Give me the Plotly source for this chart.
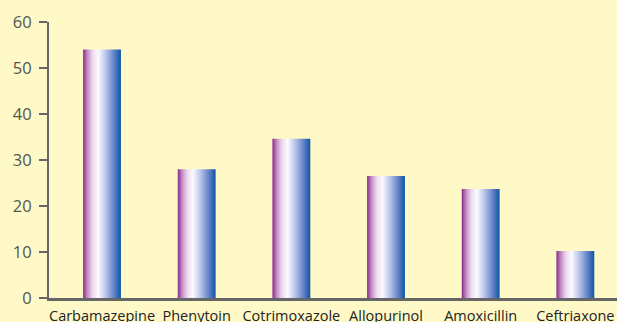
import plotly.graph_objects as go

# Drugs and the percentage attributed to each
drugs = ["Carbamazepine", "Phenytoin", "Cotrimoxazole", "Allopurinol", "Amoxicillin", "Ceftriaxone"]
values = [54, 28, 34.6, 26.5, 23.7, 10.2]
y_ticks = [0, 10, 20, 30, 40, 50, 60]

bar_half = 0.2
gradient = [
    [0.0, "#8a2a8c"],
    [0.12, "#c58fc6"],
    [0.25, "#ecd9ee"],
    [0.4, "#fbfbff"],
    [0.6, "#b9c4ea"],
    [0.82, "#6482c6"],
    [1.0, "#0b55a8"],
]

fig = go.Figure()
for i, v in enumerate(values):
    # each bar is a filled rectangle so it can carry a horizontal gradient
    fig.add_trace(go.Scatter(
        x=[i - bar_half, i + bar_half, i + bar_half, i - bar_half, i - bar_half],
        y=[0, 0, v, v, 0],
        mode="lines",
        line=dict(width=0),
        fill="toself",
        fillgradient=dict(type="horizontal", colorscale=gradient),
        hoverinfo="skip",
        showlegend=False,
    ))

bg = "#fef9c6"
fig.update_layout(
    width=617, height=322,
    margin=dict(l=49, r=0, t=22, b=24),
    paper_bgcolor=bg, plot_bgcolor=bg,
    font=dict(family="Open Sans", color="#333333"),
    showlegend=False,
)
fig.update_xaxes(
    range=[-0.56, 5.44],
    tickvals=list(range(len(drugs))),
    ticktext=drugs,
    tickfont=dict(size=14.5, color="#222222"),
    showgrid=False, zeroline=False,
    showline=True, linecolor="#666666", linewidth=3,
    ticks="", ticklabelstandoff=3,
    automargin=False,
)
fig.update_yaxes(
    range=[0, 60],
    tickvals=y_ticks,
    tickfont=dict(size=16.5, color="#555555"),
    showgrid=False, zeroline=False,
    showline=True, linecolor="#666666", linewidth=2,
    ticks="outside", ticklen=8, tickwidth=2, tickcolor="#666666",
    ticklabelstandoff=4,
    automargin=False,
)

fig.write_html("out.html")
